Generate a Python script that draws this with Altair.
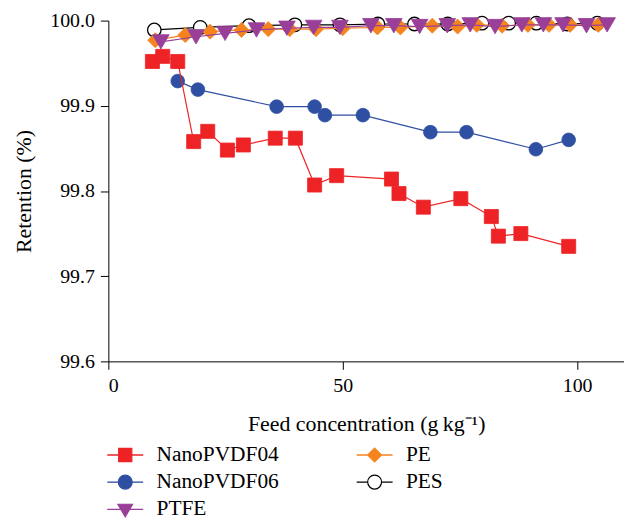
import altair as alt
import pandas as pd

# ---- data ----
nano04_x = [9.4, 11.6, 14.8, 18.2, 21.2, 25.4, 28.8, 35.6, 39.9, 44.0, 48.7, 60.4, 62.0, 67.2, 75.2, 81.7, 83.2, 88.0, 98.2]
nano04_y = [99.952, 99.958, 99.952, 99.858, 99.870, 99.848, 99.854, 99.862, 99.862, 99.807, 99.818, 99.814, 99.797, 99.781, 99.791, 99.770, 99.747, 99.750, 99.735]

nano06_x = [14.8, 19.1, 35.9, 44.0, 46.2, 54.3, 68.7, 76.4, 91.2, 98.2]
nano06_y = [99.929, 99.919, 99.899, 99.899, 99.889, 99.889, 99.869, 99.869, 99.849, 99.860]

ptfe_x = [11.2, 18.7, 24.9, 31.6, 38.1, 43.8, 49.4, 56.0, 60.9, 66.4, 72.3, 77.2, 82.5, 88.2, 92.8, 97.0, 102.0, 106.4]
ptfe_y = [99.975, 99.981, 99.985, 99.989, 99.991, 99.992, 99.992, 99.994, 99.994, 99.993, 99.994, 99.995, 99.993, 99.995, 99.995, 99.995, 99.994, 99.995]

pe_x = [10.0, 16.4, 21.7, 28.4, 34.1, 38.7, 44.3, 50.0, 57.4, 62.3, 69.1, 74.5, 78.6, 84.0, 89.5, 94.0, 98.5, 104.5]
pe_y = [99.977, 99.983, 99.987, 99.989, 99.990, 99.990, 99.990, 99.991, 99.992, 99.992, 99.994, 99.993, 99.995, 99.994, 99.995, 99.995, 99.995, 99.995]

pes_x = [9.8, 19.6, 30.0, 39.8, 49.4, 57.5, 65.3, 72.4, 79.7, 85.4, 91.3, 97.9, 104.3]
pes_y = [99.989, 99.992, 99.994, 99.995, 99.995, 99.996, 99.996, 99.996, 99.997, 99.997, 99.997, 99.996, 99.997]

x_ticks = [0, 50, 100]
y_ticks = [99.6, 99.7, 99.8, 99.9, 100.0]

series_names = ["NanoPVDF04", "NanoPVDF06", "PTFE", "PE", "PES"]
series_data = {
    "NanoPVDF04": (nano04_x, nano04_y),
    "NanoPVDF06": (nano06_x, nano06_y),
    "PTFE": (ptfe_x, ptfe_y),
    "PE": (pe_x, pe_y),
    "PES": (pes_x, pes_y),
}

rows = []
for name in series_names:
    xs, ys = series_data[name]
    for xv, yv in zip(xs, ys):
        rows.append({"series": name, "x": xv, "y": yv})
df = pd.DataFrame(rows)

RED = "#EE2326"
BLUE = "#2F4FA2"
PURPLE = "#993F98"
ORANGE = "#F5841F"
BLACK = "#000000"

style = {
    "NanoPVDF04": dict(line=RED, shape="square", fill=RED, stroke=RED, size=200, sw=0.8),
    "NanoPVDF06": dict(line=BLUE, shape="circle", fill=BLUE, stroke=BLUE, size=190, sw=0.8),
    "PTFE": dict(line=PURPLE, shape="triangle-down", fill=PURPLE, stroke=PURPLE, size=280, sw=0.8),
    "PE": dict(line=ORANGE, shape="diamond", fill=ORANGE, stroke=ORANGE, size=230, sw=0.8),
    "PES": dict(line=BLACK, shape="circle", fill="#FFFFFF", stroke=BLACK, size=185, sw=1.3),
}
draw_order = ["PES", "PE", "PTFE", "NanoPVDF06", "NanoPVDF04"]

FONT = "Liberation Serif"

X = alt.X(
    "x:Q",
    scale=alt.Scale(domain=[0, 110], nice=False, zero=False),
    axis=alt.Axis(values=x_ticks, title="Feed concentration (g\u2009kg\u207b\u00b9)", format="d", titlePadding=19),
)
Y = alt.Y(
    "y:Q",
    scale=alt.Scale(domain=[99.6, 100.0], nice=False, zero=False),
    axis=alt.Axis(values=y_ticks, title="Retention (%)", format=".1f", titlePadding=14),
)

base = alt.Chart(df)
layers = []
for s in draw_order:
    st = style[s]
    sub = base.transform_filter(alt.datum.series == s)
    layers.append(sub.mark_line(color=st["line"], strokeWidth=1.2).encode(x=X, y=Y))
    layers.append(
        sub.mark_point(
            shape=st["shape"], filled=True, fill=st["fill"], stroke=st["stroke"],
            strokeWidth=st["sw"], size=st["size"], opacity=1,
        ).encode(x=X, y=Y)
    )

# legend: line-through-marker symbols (column-major, 2 columns)
BAR = "M-1.75,-0.01H1.75V0.01H-1.75Z "
legend_paths = [
    BAR + "M-0.66,-0.66H0.66V0.66H-0.66Z",
    BAR + "M-0.7,0A0.7,0.7 0 1,1 0.7,0A0.7,0.7 0 1,1 -0.7,0Z",
    BAR + "M-0.74,-0.52H0.74L0,0.74Z",
    BAR + "M0,-0.7L0.7,0L0,0.7L-0.7,0Z",
    "M-1.75,-0.01H-0.7V0.01H-1.75Z M0.7,-0.01H1.75V0.01H0.7Z M-0.7,0A0.7,0.7 0 1,1 0.7,0A0.7,0.7 0 1,1 -0.7,0Z",
]
legend_fills = [RED, BLUE, PURPLE, ORANGE, "#FFFFFF"]
legend_strokes = [RED, BLUE, PURPLE, ORANGE, BLACK]

leg = alt.Legend(
    title=None, orient="none", legendX=6, legendY=426, columns=2,
    symbolSize=400, symbolStrokeWidth=1.2, symbolOpacity=1,
    labelFont=FONT, labelFontSize=21.5, labelColor="black", labelOffset=20.5,
    rowPadding=5.5, columnPadding=76, padding=0,
)

legend_layer = base.transform_filter("false").mark_point(filled=True, opacity=1).encode(
    x=X, y=Y,
    shape=alt.Shape("series:N", scale=alt.Scale(domain=series_names, range=legend_paths), legend=leg),
    fill=alt.Fill("series:N", scale=alt.Scale(domain=series_names, range=legend_fills), legend=leg),
    stroke=alt.Stroke("series:N", scale=alt.Scale(domain=series_names, range=legend_strokes), legend=leg),
)
layers.append(legend_layer)

chart = alt.layer(*layers).properties(
    width=519, height=343,
    padding={"left": 101, "top": 11, "right": 0, "bottom": 161},
    autosize=alt.AutoSizeParams(type="none"),
).configure_view(stroke=None).configure_axis(
    grid=False, domainColor="black", tickColor="black", domainWidth=1, tickWidth=1,
    tickSize=8, labelFont=FONT, labelFontSize=20, labelColor="black", labelPadding=6,
    titleFont=FONT, titleFontSize=22, titleFontWeight="normal", titleColor="black",
)

chart.save("out.html", embed_options={"renderer": "svg", "actions": False})
